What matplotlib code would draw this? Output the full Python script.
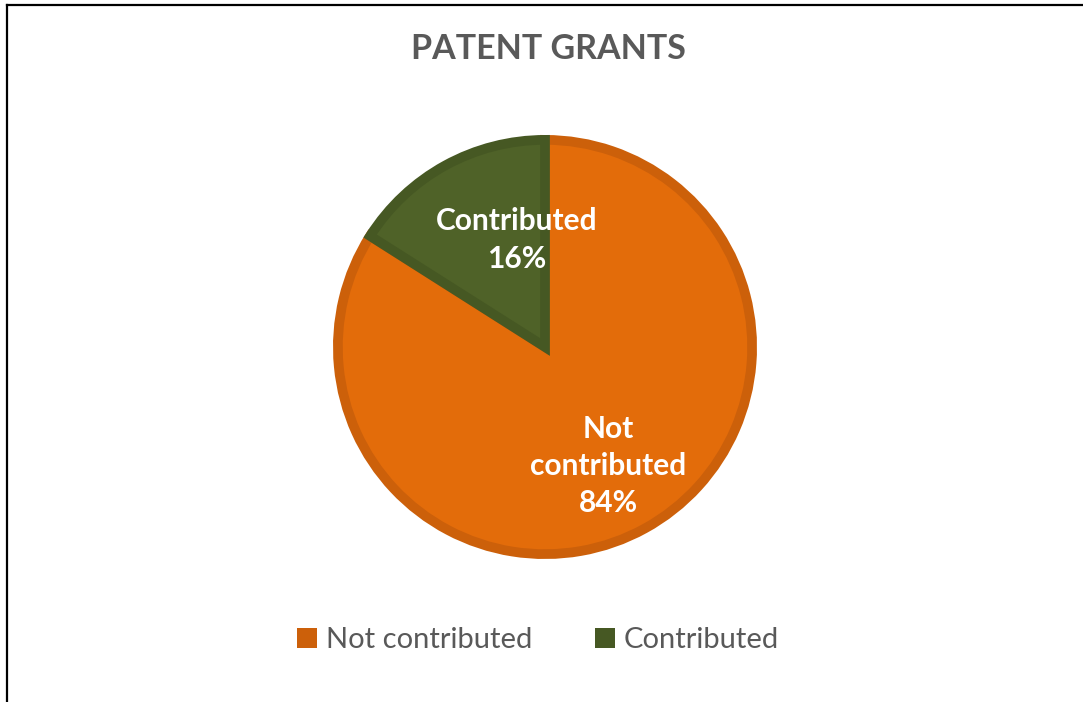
import matplotlib
matplotlib.use("Agg")
import matplotlib.pyplot as plt
from matplotlib.patches import Patch
from matplotlib.lines import Line2D

labels = ["Not contributed", "Contributed"]
values = [84, 16]
fill_colors = ["#E36C0A", "#4F6228"]
edge_colors = ["#CC600A", "#465823"]
title = "PATENT GRANTS"

plt.rcParams['font.family'] = ['Lato', 'DejaVu Sans']

W, H = 1083, 702
fig = plt.figure(figsize=(W / 100, H / 100), dpi=100)
fig.patch.set_facecolor("white")

# frame lines (left and top)
fig.add_artist(Line2D([6.5 / W, 6.5 / W], [0, 1 - 4.5 / H], transform=fig.transFigure, color="black", lw=1.6))
fig.add_artist(Line2D([6.5 / W, 1], [1 - 4.5 / H, 1 - 4.5 / H], transform=fig.transFigure, color="black", lw=1.6))

cx, cy, R = 545, 347, 212
ax = fig.add_axes([(cx - R) / W, (H - cy - R) / H, 2 * R / W, 2 * R / H])
wedges, _ = ax.pie(values, colors=fill_colors, startangle=90, counterclock=False,
                   radius=0.977, wedgeprops=dict(linewidth=7, joinstyle="miter"))
for w, ec in zip(wedges, edge_colors):
    w.set_edgecolor(ec)
ax.set_xlim(-1, 1)
ax.set_ylim(-1, 1)
ax.set_aspect("equal")
ax.axis("off")

ax.text(-0.132, 0.505, f"{labels[1]}\n{values[1]}%", ha="center", va="center",
        color="white", fontsize=21.5, fontweight="bold", linespacing=1.4)
ax.text(0.297, -0.560, "Not\ncontributed\n" + f"{values[0]}%", ha="center", va="center",
        color="white", fontsize=21.5, fontweight="bold", linespacing=1.4)

fig.text(548 / W, 1 - 49 / H, title, ha="center", va="center", color="#595959",
         fontsize=24.5, fontweight="bold")

handles = [Patch(facecolor=edge_colors[i], edgecolor="none", label=labels[i]) for i in range(2)]
fig.legend(handles=handles, loc="center", bbox_to_anchor=(538 / W, 1 - 640 / H), ncol=2,
           frameon=False, fontsize=21, labelcolor="#595959", handlelength=0.7,
           handleheight=0.7, handletextpad=0.3, columnspacing=2.15)

fig.savefig("out.png", dpi=100, facecolor="white")
